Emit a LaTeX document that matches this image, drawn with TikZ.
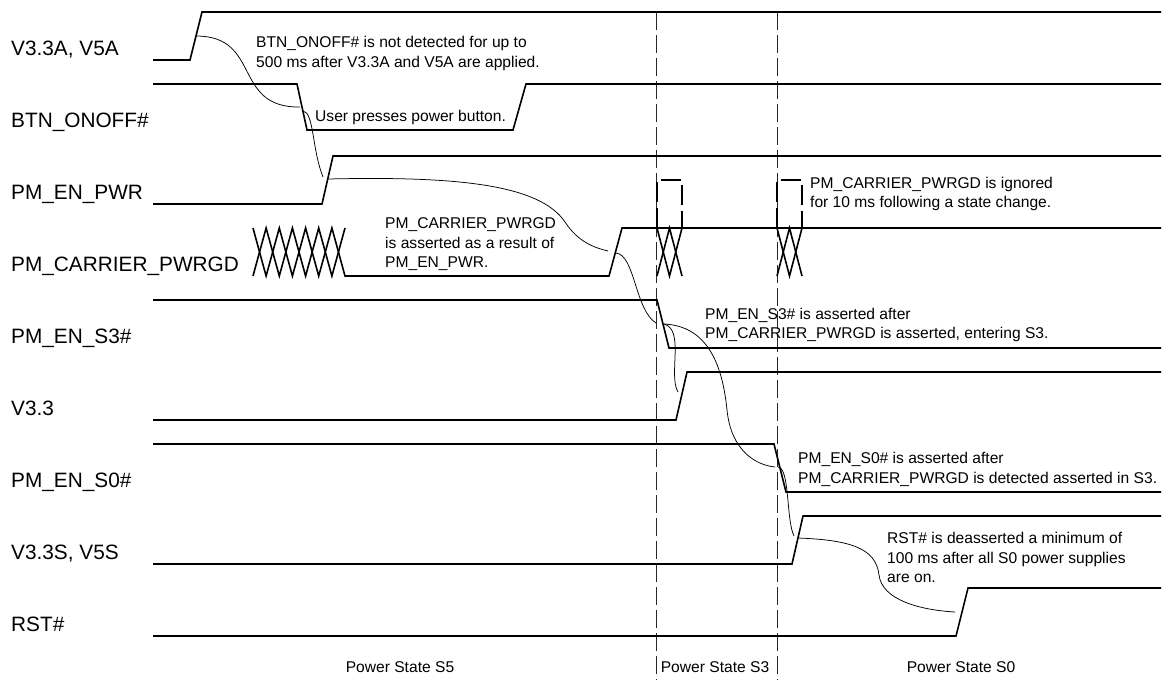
\documentclass[tikz,border=0pt]{standalone}
\usepackage{fontspec}
\setmainfont{Liberation Sans}
\begin{document}
\begin{tikzpicture}[x=1pt,y=-1pt,
  sig/.style={line width=1.6pt, line join=miter},
  call/.style={line width=0.75pt},
  gridline/.style={line width=1pt, black!85, dash pattern=on 18pt off 5pt},
  win/.style={line width=1.6pt, dash pattern=on 20pt off 6pt},
  lbl/.style={anchor=base west, inner sep=0pt, font=\fontsize{20.8}{24}\selectfont},
  note/.style={anchor=base west, inner sep=0pt, font=\fontsize{15.6}{19}\selectfont},
  statelbl/.style={anchor=base, inner sep=0pt, font=\fontsize{15.6}{19}\selectfont}]
\useasboundingbox (0,0) rectangle (1174,680);

% signal names
\node[lbl] (l1) at (11,55)  {V3.3A, V5A};
\node[lbl] (l2) at (11,127) {BTN\_ONOFF\#};
\node[lbl] (l3) at (11,199) {PM\_EN\_PWR};
\node[lbl] (l4) at (11,271) {PM\_CARRIER\_PWRGD};
\node[lbl] (l5) at (11,343) {PM\_EN\_S3\#};
\node[lbl] (l6) at (11,415) {V3.3};
\node[lbl] (l7) at (11,487) {PM\_EN\_S0\#};
\node[lbl] (l8) at (11,559) {V3.3S, V5S};
\node[lbl] (l9) at (11,631) {RST\#};

% state boundaries
\coordinate (g1t) at (656.5,12);  \coordinate (g1b) at (656.5,680);
\coordinate (g2t) at (777,12);    \coordinate (g2b) at (777,680);
\draw[gridline] (g1t) -- (g1b);
\draw[gridline] (g2t) -- (g2b);

% waveforms
\draw[sig] (153,60) -- (190,60) -- (202,12) -- (1161,12);
\draw[sig] (153,84) -- (297,84) -- (307,130) -- (513,130) -- (526,84) -- (1161,84);
\draw[sig] (153,204) -- (322,204) -- (333,156) -- (1161,156);
% PM_CARRIER_PWRGD
\draw[sig] (253,228) -- (266.1,276) -- (279.3,228) -- (292.4,276) -- (305.6,228) -- (318.7,276) -- (331.9,228) -- (345,276)
  -- (609,276) -- (622,228) -- (1161,228);
\draw[sig] (253,276) -- (266.1,228) -- (279.3,276) -- (292.4,228) -- (305.6,276) -- (318.7,228) -- (331.9,276) -- (345,228);
\draw[sig] (657,228) -- (669.5,276) -- (682,228);
\draw[sig] (657,276) -- (669.5,228) -- (682,276);
\draw[sig] (777,228) -- (789.5,276) -- (802,228);
\draw[sig] (777,276) -- (789.5,228) -- (802,276);
\draw[win] (657,228) -- (657,180) -- (682,180) -- (682,228);
\draw[win] (777,228) -- (777,180) -- (802,180) -- (802,228);
% others
\draw[sig] (153,300) -- (657,300) -- (669,348) -- (1161,348);
\draw[sig] (153,420) -- (676,420) -- (687,372) -- (1161,372);
\draw[sig] (153,444) -- (774,444) -- (786,492) -- (1161,492);
\draw[sig] (153,564) -- (792,564) -- (803,516) -- (1161,516);
\draw[sig] (153,636) -- (956,636) -- (968,588) -- (1161,588);

% edge points used by the callouts
\coordinate (e1) at (196,36);
\coordinate (e2a) at (300,107);
\coordinate (e2b) at (303,111);
\coordinate (e3) at (323,177);
\coordinate (e3b) at (328,179);
\coordinate (e4) at (608,251);
\coordinate (e4b) at (616,253);
\coordinate (e5) at (656,323);
\coordinate (e5b) at (664,324);
\coordinate (e6) at (678,392);
\coordinate (e7) at (775,467);
\coordinate (e7b) at (778,467);
\coordinate (e8) at (794,536);
\coordinate (e8b) at (798,538);
\coordinate (e9) at (955,612);

% callouts
\draw[call] (e1) .. controls (262,36) and (232,108) .. (e2a);
\draw[call] (e2b) .. controls (314,112) and (312,150) .. (e3);
\draw[call] (e3b) .. controls (460,176) and (540,185) .. (565,222) .. controls (578,242) and (595,248) .. (e4);
\draw[call] (e4b) .. controls (635,255) and (635,310) .. (e5);
\draw[call] (e5b) .. controls (685,330) and (668,375) .. (e6);
\draw[call] (e5b) .. controls (705,326) and (722,360) .. (727,410) .. controls (731,450) and (755,465) .. (e7);
\draw[call] (e7b) .. controls (790,468) and (786,520) .. (e8);
\draw[call] (e8b) .. controls (850,540) and (876,548) .. (879,575) .. controls (882,600) and (920,610) .. (e9);

% annotations
\node[note] (n1a) at (256,47) {BTN\_ONOFF\# is not detected for up to};
\node[note] (n1b) at (256,67) {500 ms after V3.3A and V5A are applied.};
\node[note] (n2) at (315,121) {User presses power button.};
\node[note] (n3a) at (385,228) {PM\_CARRIER\_PWRGD};
\node[note] (n3b) at (385,248) {is asserted as a result of};
\node[note] (n3c) at (385,267) {PM\_EN\_PWR.};
\node[note] (n4a) at (810,188) {PM\_CARRIER\_PWRGD is ignored};
\node[note] (n4b) at (810,207) {for 10 ms following a state change.};
\node[note] (n5a) at (705,319) {PM\_EN\_S3\# is asserted after};
\node[note] (n5b) at (705,338) {PM\_CARRIER\_PWRGD is asserted, entering S3.};
\node[note] (n6a) at (798,463) {PM\_EN\_S0\# is asserted after};
\node[note] (n6b) at (798,483) {PM\_CARRIER\_PWRGD is detected asserted in S3.};
\node[note] (n7a) at (887,543) {RST\# is deasserted a minimum of};
\node[note] (n7b) at (887,563) {100 ms after all S0 power supplies};
\node[note] (n7c) at (887,582) {are on.};

% power states
\node[statelbl] (s5) at (400,672) {Power State S5};
\node[statelbl] (s3) at (715,672) {Power State S3};
\node[statelbl] (s0) at (961,672) {Power State S0};
\end{tikzpicture}
\end{document}
